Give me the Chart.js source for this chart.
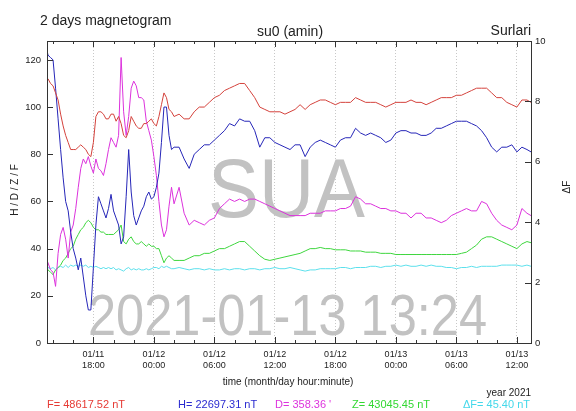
<!DOCTYPE html>
<html>
<head>
<meta charset="utf-8">
<script src="https://cdn.jsdelivr.net/npm/chart.js@4"></script>
<style>
html, body { margin: 0; background: #fff; }
</style>
</head>
<body>
<canvas id="magnetogram" width="576" height="411"></canvas>
<script>
// time axis: hours counted from 01/11 00:00
var hours = [13.4, 13.5, 13.75, 14, 14.25, 14.5, 14.75, 15, 15.25, 15.5, 15.75, 16, 16.25, 16.5, 16.75, 17, 17.25, 17.5, 17.75,
    18, 18.25, 18.5, 18.75, 19, 19.25, 19.5, 19.75, 20, 20.25, 20.5, 20.75, 21, 21.25, 21.5, 21.75, 22, 22.25, 22.5, 22.75,
    23, 23.25, 23.5, 23.75, 24, 24.25, 24.5, 24.75, 25, 25.25, 25.5, 25.75, 26,
    26.5, 27, 27.5, 28, 28.5, 29, 29.5, 30, 30.5, 31, 31.5, 32, 32.5, 33, 33.5, 34, 34.5, 35, 35.5, 36, 36.5, 37, 37.5,
    38, 38.5, 39, 39.5, 40, 40.5, 41, 41.5, 42, 42.5, 43, 43.5, 44, 44.5, 45, 45.5, 46, 46.5, 47, 47.5, 48, 48.5, 49, 49.5,
    50, 50.5, 51, 51.5, 52, 52.5, 53, 53.5, 54, 54.5, 55, 55.5, 56, 56.5, 57, 57.5, 58, 58.5, 59, 59.5, 60, 60.5, 61, 61.4];

var valuesF = [112, 112, 110, 109, 106, 103, 97, 92, 88, 85, 82, 82, 82, 83, 84, 83, 82, 80, 79,
    85, 96, 98, 98, 97, 95, 95, 97, 97, 94, 96, 93, 88, 87, 90, 96, 94, 92, 91, 91,
    93, 93, 94, 95, 93, 92, 96, 101, 106, 104, 99, 98, 96,
    97, 95, 95, 98, 100, 100, 102, 104, 105, 107, 108, 109, 110, 110, 107, 104, 100, 99, 98, 98, 98, 97, 98,
    99, 101, 99, 101, 102, 103, 103, 102, 101, 102, 102, 102, 104, 103, 102, 102, 102, 101, 100, 101, 102, 102, 102, 103,
    102, 102, 101, 102, 103, 104, 104, 104, 105, 105, 106, 107, 108, 108, 108, 106, 104, 104, 102, 101, 100, 103, 103, 102];

var valuesH = [124, 122, 121, 120, 108, 95, 82, 70, 60, 56, 47, 40, 36, 31, 36, 28, 20, 14, 14,
    32, 50, 62, 59, 56, 53, 57, 63, 56, 53, 50, 42, 45, 62, 82, 64, 54, 50, 53, 56,
    58, 62, 64, 61, 62, 66, 72, 85, 100, 100, 88, 82, 83,
    83, 78, 74, 80, 82, 84, 84, 86, 88, 90, 93, 92, 95, 94, 94, 90, 83, 87, 87, 85, 84, 83, 82,
    84, 84, 79, 83, 85, 86, 85, 84, 83, 86, 87, 87, 91, 89, 88, 89, 88, 87, 85, 86, 89, 90, 90, 89,
    89, 88, 88, 89, 91, 91, 92, 93, 94, 94, 94, 93, 92, 90, 87, 83, 81, 83, 83, 84, 81, 83, 82, 81];

var valuesD = [35, 34, 31, 30, 24, 38, 46, 49, 44, 36, 47, 50, 57, 66, 74, 78, 76, 79, 75,
    72, 78, 74, 73, 71, 76, 82, 87, 85, 83, 88, 121, 98, 88, 96, 108, 111, 109, 104, 104,
    103, 94, 90, 86, 79, 71, 60, 50, 45, 48, 58, 66, 59,
    66, 55, 50, 52, 51, 50, 52, 53, 57, 59, 61, 60, 61, 60, 61, 61, 60, 59, 58, 57, 56, 55, 54,
    54, 54, 54, 55, 55, 55, 56, 56, 56, 57, 57, 58, 62, 61, 59, 59, 58, 57, 57, 56, 56, 55, 55, 53,
    55, 55, 53, 53, 52, 51, 52, 54, 55, 56, 57, 56, 56, 60, 59, 55, 52, 50, 49, 48, 50, 57, 55, 54];

var valuesZ = [30, 31, 30, 29, 31, 32, 33, 35, 36, 38, 40, 41, 44, 46, 48, 49, 51, 52, 51,
    49, 48, 48, 47, 47, 46, 46, 46, 46, 47, 48, 50, 43, 42, 44, 45, 43, 42, 42, 43,
    42, 41, 42, 41, 41, 40, 40, 37, 34, 36, 37, 36, 35,
    35, 35, 36, 37, 37, 38, 38, 39, 40, 40, 41, 42, 43, 43, 41, 39, 37, 35.5, 35, 35.5, 36, 36.5, 37,
    37.5, 38, 39, 40, 40, 40.5, 40, 40, 39.5, 39.5, 39.5, 39, 39, 39, 38.5, 38.5, 38.5, 38, 38, 38, 37.5, 37.5, 37.5, 37.5,
    37.5, 37.5, 37.5, 37.5, 37.5, 37.5, 37.5, 37.5, 37.5, 38, 38.5, 40, 41.5, 44, 45, 45, 44, 43, 42, 41, 40, 42, 43, 42.5];

// delta F is read on the right axis (0 - 10)
var valuesDF = [2.42, 2.5, 2.46, 2.5, 2.42, 2.5, 2.54, 2.5, 2.58, 2.5, 2.58, 2.54, 2.58, 2.54, 2.58, 2.54, 2.58, 2.5, 2.54,
    2.5, 2.54, 2.5, 2.46, 2.5, 2.46, 2.5, 2.46, 2.5, 2.42, 2.46, 2.42, 2.38, 2.46, 2.5, 2.42, 2.46, 2.42, 2.46, 2.42,
    2.42, 2.46, 2.42, 2.46, 2.5, 2.5, 2.46, 2.54, 2.5, 2.54, 2.5, 2.46, 2.46,
    2.5, 2.46, 2.42, 2.46, 2.46, 2.42, 2.46, 2.42, 2.42, 2.46, 2.42, 2.46, 2.46, 2.42, 2.46, 2.46, 2.42, 2.46, 2.46, 2.5, 2.46, 2.46, 2.5,
    2.46, 2.42, 2.38, 2.42, 2.42, 2.46, 2.46, 2.46, 2.46, 2.5, 2.5, 2.46, 2.5, 2.5, 2.5, 2.54, 2.54, 2.5, 2.54, 2.54, 2.58, 2.54, 2.58, 2.54,
    2.54, 2.58, 2.54, 2.58, 2.54, 2.54, 2.5, 2.5, 2.46, 2.5, 2.5, 2.54, 2.5, 2.54, 2.54, 2.54, 2.54, 2.58, 2.58, 2.58, 2.58, 2.54, 2.58, 2.54];

var xMinorTicks = [14, 16, 18, 20, 22, 24, 26, 28, 30, 32, 34, 36, 38, 40, 42, 44, 46, 48, 50, 52, 54, 56, 58, 60];
var xMajorTicks = [18, 24, 30, 36, 42, 48, 54, 60];
var xTickLabels = [['01/11', '18:00'], ['01/12', '00:00'], ['01/12', '06:00'], ['01/12', '12:00'],
    ['01/12', '18:00'], ['01/13', '00:00'], ['01/13', '06:00'], ['01/13', '12:00']];
var yLeftTicks = [0, 20, 40, 60, 80, 100, 120];
var yRightTicks = [0, 2, 4, 6, 8, 10];

var legendTexts = ['F= 48617.52 nT', 'H= 22697.31 nT', 'D= 358.36 \'', 'Z= 43045.45 nT', '\u0394F= 45.40 nT'];

function points(vals) {
    return hours.map(function (h, i) { return { x: h, y: vals[i] }; });
}

var FONT = '"Liberation Sans", Arial, sans-serif';

function stretchText(ctx, text, cx, baseline, width, size) {
    ctx.font = size + 'px ' + FONT;
    var w = ctx.measureText(text).width;
    ctx.save();
    ctx.translate(cx, baseline);
    ctx.scale(width / w, 1);
    ctx.textAlign = 'center';
    ctx.textBaseline = 'alphabetic';
    ctx.fillText(text, 0, 0);
    ctx.restore();
}

var decorations = {
    id: 'decorations',
    beforeDatasetsDraw: function (chart) {
        var ctx = chart.ctx;
        ctx.save();
        ctx.fillStyle = '#c2c2c2';
        stretchText(ctx, 'SUA', 286.5, 217, 157, 83);
        stretchText(ctx, '2021-01-13 13:24', 287.5, 335, 399, 58);
        ctx.restore();
    },
    afterDraw: function (chart) {
        var ctx = chart.ctx;
        var a = chart.chartArea;
        var xs = chart.scales.x, yl = chart.scales.y, yr = chart.scales.y2;
        ctx.save();
        ctx.strokeStyle = '#333';
        ctx.lineWidth = 1;
        ctx.strokeRect(Math.round(a.left) + 0.5, Math.round(a.top) + 0.5,
            Math.round(a.right - a.left), Math.round(a.bottom - a.top));

        // inner tick marks, gnuplot style
        ctx.beginPath();
        xMinorTicks.forEach(function (v) {
            var px = Math.round(xs.getPixelForValue(v)) + 0.5;
            var len = xMajorTicks.indexOf(v) >= 0 ? 6 : 3;
            ctx.moveTo(px, a.bottom); ctx.lineTo(px, a.bottom - len);
            ctx.moveTo(px, a.top); ctx.lineTo(px, a.top + len);
        });
        yLeftTicks.forEach(function (v) {
            var py = Math.round(yl.getPixelForValue(v)) + 0.5;
            ctx.moveTo(a.left, py); ctx.lineTo(a.left + 6, py);
        });
        yRightTicks.forEach(function (v) {
            var py = Math.round(yr.getPixelForValue(v)) + 0.5;
            ctx.moveTo(a.right, py); ctx.lineTo(a.right - 6, py);
        });
        ctx.stroke();

        ctx.fillStyle = '#222';
        ctx.textBaseline = 'alphabetic';
        ctx.font = '14px ' + FONT;
        ctx.textAlign = 'left';
        ctx.fillText('2 days magnetogram', 40, 25);
        ctx.textAlign = 'center';
        ctx.fillText('su0 (amin)', 290, 36);
        ctx.textAlign = 'right';
        ctx.fillText('Surlari', 531, 35);

        ctx.textBaseline = 'middle';
        ctx.font = '10px ' + FONT;
        ctx.textAlign = 'center';
        ctx.fillText('time (month/day hour:minute)', 288, 382);
        ctx.textAlign = 'right';
        ctx.fillText('year 2021', 531, 393);

        ctx.save();
        ctx.translate(15, 190);
        ctx.rotate(-Math.PI / 2);
        ctx.textAlign = 'center';
        ctx.fillText('H / D / Z / F', 0, 0);
        ctx.restore();
        ctx.save();
        ctx.translate(567, 187);
        ctx.rotate(-Math.PI / 2);
        ctx.textAlign = 'center';
        ctx.fillText('\u0394F', 0, 0);
        ctx.restore();

        var legendX = [47, 178, 275, 352, 463];
        var legendColors = ['#e63a34', '#2a2ad0', '#dd33dd', '#33d833', '#44d8ea'];
        ctx.font = '11px ' + FONT;
        ctx.textAlign = 'left';
        legendTexts.forEach(function (t, i) {
            ctx.fillStyle = legendColors[i];
            ctx.fillText(t, legendX[i], 405);
        });
        ctx.restore();
    }
};

var ctx = document.getElementById('magnetogram').getContext('2d');

var magnetogram = new Chart(ctx, {
    type: 'line',
    data: {
        datasets: [
            { label: 'F', data: points(valuesF), borderColor: 'rgb(212,66,60)', yAxisID: 'y' },
            { label: 'H', data: points(valuesH), borderColor: 'rgb(38,38,184)', yAxisID: 'y' },
            { label: 'D', data: points(valuesD), borderColor: 'rgb(220,50,220)', yAxisID: 'y' },
            { label: 'Z', data: points(valuesZ), borderColor: 'rgb(62,214,62)', yAxisID: 'y' },
            { label: 'dF', data: points(valuesDF), borderColor: 'rgb(92,224,236)', yAxisID: 'y2' }
        ]
    },
    options: {
        responsive: false,
        animation: false,
        devicePixelRatio: 1,
        datasets: { line: { borderWidth: 1, pointRadius: 0, tension: 0, fill: false } },
        layout: { padding: { top: 41, left: 0, right: 0, bottom: 0 } },
        plugins: { legend: { display: false }, tooltip: { enabled: false } },
        scales: {
            x: {
                type: 'linear',
                min: 13.4,
                max: 61.4,
                afterBuildTicks: function (scale) {
                    scale.ticks = xMinorTicks.map(function (v) { return { value: v }; });
                },
                afterFit: function (scale) { scale.height = 68; },
                ticks: {
                    autoSkip: false,
                    maxRotation: 0,
                    padding: 6,
                    color: '#222',
                    font: { family: FONT, size: 9, lineHeight: 1.2 },
                    callback: function (v) {
                        var i = xMajorTicks.indexOf(v);
                        return i >= 0 ? xTickLabels[i] : '';
                    }
                },
                grid: {
                    drawTicks: false,
                    color: function (c) {
                        return c.tick && xMajorTicks.indexOf(c.tick.value) >= 0 ? '#c8c8c8' : 'rgba(0,0,0,0)';
                    },
                    lineWidth: 1
                },
                border: { display: false, dash: [1, 2] }
            },
            y: {
                position: 'left',
                min: 0,
                max: 128,
                afterBuildTicks: function (scale) {
                    scale.ticks = yLeftTicks.map(function (v) { return { value: v }; });
                },
                afterFit: function (scale) { scale.width = 47; },
                ticks: { padding: 6, color: '#222', font: { family: FONT, size: 9.5 } },
                grid: { display: false, drawTicks: false },
                border: { display: false }
            },
            y2: {
                position: 'right',
                min: 0,
                max: 10,
                afterBuildTicks: function (scale) {
                    scale.ticks = yRightTicks.map(function (v) { return { value: v }; });
                },
                afterFit: function (scale) { scale.width = 45; },
                ticks: { padding: 4, color: '#222', font: { family: FONT, size: 9.5 } },
                grid: { display: false, drawTicks: false },
                border: { display: false }
            }
        }
    },
    plugins: [decorations]
});
</script>
</body>
</html>
